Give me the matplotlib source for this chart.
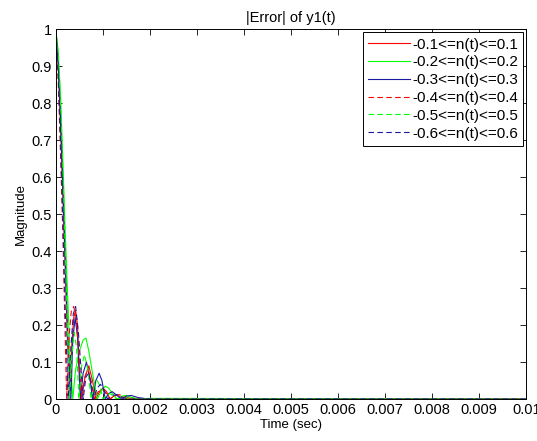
"""|Error| of y1(t) for different noise bounds n(t)."""
import matplotlib
matplotlib.use("Agg")
import matplotlib.pyplot as plt
import numpy as np

plt.rcParams["font.family"] = ["Liberation Sans", "DejaVu Sans"]

# time points in ms (converted to seconds below)
T1 = [0, 0.05, 0.1, 0.15, 0.2, 0.24, 0.3, 0.34, 0.38, 0.42, 0.46, 0.5, 0.55, 0.62, 0.70, 0.78,
      0.85, 0.93, 1.0, 1.08, 1.15, 1.23, 1.3, 1.38, 1.45, 1.6, 1.8, 10]
Y1 = [1.0, 0.9, 0.74, 0.55, 0.36, 0.18, 0.0, 0.15, 0.22, 0.24, 0.2, 0.08, 0.0, 0.06, 0.09, 0.05,
      0.0, 0.02, 0.03, 0.02, 0.0, 0.008, 0.01, 0.006, 0.0, 0.003, 0.0, 0.0]

T2 = [0, 0.05, 0.1, 0.15, 0.2, 0.25, 0.3, 0.36, 0.42, 0.5, 0.58, 0.64, 0.7, 0.78, 0.88, 0.96,
      1.05, 1.12, 1.2, 1.3, 1.4, 1.5, 1.6, 1.75, 2.0, 10]
Y2 = [1.0, 0.94, 0.82, 0.64, 0.45, 0.28, 0.12, 0.0, 0.08, 0.13, 0.16, 0.165, 0.13, 0.07, 0.0,
      0.02, 0.035, 0.03, 0.015, 0.0, 0.008, 0.01, 0.005, 0.0, 0.002, 0.0]

T3 = [0, 0.05, 0.1, 0.15, 0.2, 0.25, 0.32, 0.36, 0.41, 0.46, 0.52, 0.58, 0.65, 0.72, 0.78,
      0.85, 0.92, 0.98, 1.05, 1.12, 1.2, 1.3, 1.4, 1.5, 1.6, 1.75, 2.0, 10]
Y3 = [1.0, 0.91, 0.76, 0.57, 0.37, 0.18, 0.0, 0.16, 0.22, 0.17, 0.0, 0.07, 0.1, 0.06, 0.0,
      0.05, 0.07, 0.05, 0.0, 0.015, 0.02, 0.01, 0.0, 0.008, 0.01, 0.004, 0.0, 0.0]

T4 = [0, 0.05, 0.1, 0.15, 0.2, 0.23, 0.28, 0.33, 0.38, 0.43, 0.49, 0.55, 0.62, 0.68, 0.75, 0.82,
      0.9, 1.0, 1.08, 1.15, 1.25, 1.35, 1.5, 1.7, 10]
Y4 = [1.0, 0.86, 0.66, 0.44, 0.16, 0.0, 0.17, 0.24, 0.25, 0.22, 0.12, 0.0, 0.06, 0.08, 0.05, 0.0,
      0.02, 0.025, 0.015, 0.0, 0.01, 0.012, 0.004, 0.0, 0.0]

T5 = [0, 0.05, 0.1, 0.15, 0.2, 0.25, 0.29, 0.34, 0.39, 0.44, 0.49, 0.55, 0.61, 0.68, 0.75, 0.82,
      0.88, 0.94, 1.0, 1.08, 1.15, 1.22, 1.3, 1.45, 1.6, 10]
Y5 = [1.0, 0.93, 0.8, 0.62, 0.4, 0.18, 0.0, 0.12, 0.18, 0.14, 0.0, 0.09, 0.12, 0.08, 0.0, 0.04,
      0.05, 0.035, 0.0, 0.012, 0.015, 0.008, 0.0, 0.005, 0.0, 0.0]

T6 = [0, 0.05, 0.1, 0.15, 0.2, 0.26, 0.32, 0.37, 0.42, 0.48, 0.58, 0.64, 0.7, 0.75, 0.8,
      0.88, 0.95, 1.02, 1.1, 1.2, 1.3, 1.4, 1.55, 1.8, 10]
Y6 = [1.0, 0.88, 0.7, 0.48, 0.24, 0.0, 0.14, 0.23, 0.25, 0.18, 0.0, 0.06, 0.07, 0.04, 0.0,
      0.03, 0.04, 0.025, 0.0, 0.01, 0.012, 0.006, 0.0, 0.0, 0.0]

LABELS = ["-0.1<=n(t)<=0.1", "-0.2<=n(t)<=0.2", "-0.3<=n(t)<=0.3",
          "-0.4<=n(t)<=0.4", "-0.5<=n(t)<=0.5", "-0.6<=n(t)<=0.6"]

SERIES = [(T1, Y1), (T2, Y2), (T3, Y3), (T4, Y4), (T5, Y5), (T6, Y6)]
COLORS = ["#ff0000", "#00ff00", "#1a1aa0", "#ff0000", "#00ff00", "#1a1aa0"]
STYLES = ["-", "-", "-", (0, (5, 3)), (0, (5, 3)), (0, (5, 3))]

fig = plt.figure(figsize=(5.37, 4.41), dpi=100)
ax = fig.add_axes([0.104, 0.095, 0.876, 0.839])

for (t, y), c, ls, lab in zip(SERIES, COLORS, STYLES, LABELS):
    ax.plot(np.array(t) * 1e-3, y, color=c, linestyle=ls, linewidth=0.8, label=lab)

ax.set_xlim(0, 0.01)
ax.set_ylim(0, 1)
ax.set_xticks(np.arange(0, 0.0101, 0.001))
ax.set_xticklabels(["0", "0.001", "0.002", "0.003", "0.004", "0.005",
                    "0.006", "0.007", "0.008", "0.009", "0.01"])
ax.set_yticks(np.arange(0, 1.01, 0.1))
ax.set_yticklabels(["0", "0.1", "0.2", "0.3", "0.4", "0.5", "0.6", "0.7", "0.8", "0.9", "1"])
ax.tick_params(direction="in", top=True, right=True, length=4, width=0.6, labelsize=10.5, pad=3)
for sp in ax.spines.values():
    sp.set_linewidth(0.7)

ax.set_title("|Error| of y1(t)", fontsize=10.5, pad=5)
ax.set_xlabel("Time (sec)", fontsize=9.5, labelpad=1)
ax.set_ylabel("Magnitude", fontsize=9.5, labelpad=3)

leg = ax.legend(loc="upper right", fontsize=11, handlelength=2.7, handletextpad=0.15,
                labelspacing=0.25, borderpad=0.35, fancybox=False, framealpha=1,
                edgecolor="black", borderaxespad=0.2)
leg.get_frame().set_linewidth(0.7)

fig.savefig("out.png", dpi=100)
